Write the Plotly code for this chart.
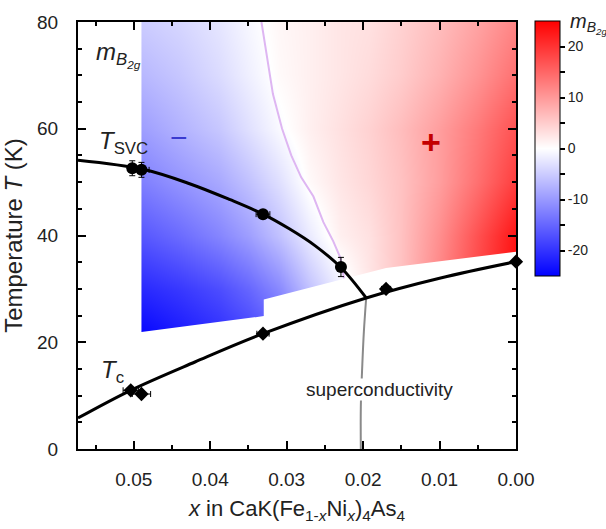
import plotly.graph_objects as go

# ---- transition temperatures -------------------------------------------
# spin-vortex-crystal transition (circles)
svc_x = [0.0502, 0.0490, 0.0331, 0.0229]
svc_t = [52.6, 52.3, 44.0, 34.1]
svc_dx = [0.0005, 0.0010, 0.0009, 0.0003]
svc_dt = [1.4, 1.4, 0.6, 1.8]

# superconducting transition (diamonds)
tc_x = [0.0504, 0.0490, 0.0331, 0.0170, 0.0]
tc_t = [11.0, 10.3, 21.6, 30.0, 35.1]
tc_dx = [0.0010, 0.0012, 0.0008, 0.0006, 0.0]
tc_dt = [0.5, 0.6, 0.5, 0.6, 0.0]

# guide-to-the-eye phase lines
svc_line_x = [0.0573, 0.0488, 0.0427, 0.0374, 0.0331, 0.0296, 0.0263, 0.0229, 0.0196]
svc_line_t = [54.1, 52.4, 49.7, 46.7, 44.0, 41.2, 38.1, 34.0, 28.3]
tc_line_x = [0.0573, 0.0504, 0.0420, 0.0331, 0.0196, 0.0100, 0.0]
tc_line_t = [5.8, 11.0, 16.3, 21.6, 28.3, 32.0, 35.1]
sc_line_x = [0.0196, 0.0199, 0.0201, 0.0203, 0.0203]
sc_line_t = [28.3, 22.0, 16.0, 8.0, 0.0]

# ---- elastoresistance coefficient m_B2g -------------------------------
mb_x = [0.049, 0.044, 0.039, 0.035, 0.031, 0.027, 0.023, 0.019, 0.015, 0.010, 0.005, 0.0]
mb_t = [20, 30, 40, 50, 60, 70, 80]
mb_values = [
    [-25.0, -23.0, -21.0, -19.0, -16.0, -12.0, -6.0, 0.0, 5.0, 12.0, 20.0, 27.0],
    [-21.0, -19.5, -17.5, -15.0, -11.5, -6.0, -1.5, 2.5, 6.0, 12.0, 18.0, 24.0],
    [-16.5, -14.5, -12.0, -9.5, -6.0, -2.0, 1.5, 3.0, 6.0, 11.0, 17.0, 23.0],
    [-12.5, -10.5, -8.5, -6.0, -3.0, 0.5, 2.5, 4.0, 6.0, 9.5, 14.0, 19.0],
    [-9.5, -7.5, -5.5, -3.0, -0.5, 1.5, 3.0, 4.5, 6.5, 9.5, 13.0, 17.0],
    [-7.0, -5.5, -3.5, -1.5, 0.5, 1.5, 2.5, 3.5, 5.0, 7.5, 10.5, 14.0],
    [-5.0, -4.0, -2.5, -0.8, 0.8, 1.5, 2.5, 3.0, 4.5, 6.5, 9.0, 12.0],
]
mb_range = [-25, 25]

# zero contour of m_B2g
zero_x = [0.0333, 0.0326, 0.0318, 0.0306, 0.0294, 0.0281, 0.0265, 0.0252, 0.0239, 0.0230, 0.0225]
zero_t = [80.0, 74.0, 66.5, 60.0, 55.0, 50.9, 47.3, 42.5, 38.9, 35.9, 32.0]

# region without elastoresistance data (left of first sample, below measured T)
nodata_x = [0.062, 0.062, 0.049, 0.049, 0.033, 0.033, 0.017, 0.0, -0.003, -0.003]
nodata_t = [-3, 83, 83, 21.9, 24.9, 28.0, 33.9, 37.0, 37.5, -3]

FONT = "Liberation Sans, Arial, Helvetica, sans-serif"
PLOT_L, PLOT_R, PLOT_T, PLOT_B = 78, 516, 18, 463
W, H = 606, 529
plot_w, plot_h = PLOT_R - PLOT_L, PLOT_B - PLOT_T

cb_left_px, cb_top_px, cb_len_px, cb_thick = 535, 17, 255, 25
cb_x = (cb_left_px - PLOT_L) / plot_w
cb_y = (PLOT_B - cb_top_px) / plot_h

fig = go.Figure()

fig.add_trace(go.Heatmap(
    x=mb_x, y=mb_t, z=mb_values, zsmooth="best",
    zmin=mb_range[0], zmax=mb_range[1],
    colorscale=[[0, "rgb(0,0,255)"], [0.5, "rgb(255,255,255)"], [1, "rgb(255,0,0)"]],
    hoverinfo="skip",
    colorbar=dict(
        x=cb_x, xanchor="left", xpad=0, y=cb_y, yanchor="top", ypad=0,
        lenmode="pixels", len=cb_len_px, thicknessmode="pixels", thickness=cb_thick,
        outlinecolor="black", outlinewidth=1,
        tickvals=[-20, -15, -10, -5, 0, 5, 10, 15, 20],
        ticktext=["-20", "", "-10", "", "0", "", "10", "", "20"],
        ticks="outside", ticklen=5, tickwidth=1.5, tickcolor="black",
        tickfont=dict(family=FONT, size=14, color="#222"),
    ),
))

fig.add_trace(go.Scatter(
    x=nodata_x, y=nodata_t, mode="lines", fill="toself",
    fillcolor="white", line=dict(width=0, color="white"), hoverinfo="skip",
))

fig.add_trace(go.Scatter(
    x=zero_x, y=zero_t, mode="lines",
    line=dict(color="rgb(222,182,242)", width=2), hoverinfo="skip",
))

fig.add_trace(go.Scatter(
    x=sc_line_x, y=sc_line_t, mode="lines", line_shape="spline",
    line=dict(color="#8a8a8a", width=2), hoverinfo="skip",
))

fig.add_trace(go.Scatter(
    x=svc_line_x, y=svc_line_t, mode="lines", line_shape="spline",
    line=dict(color="black", width=3), hoverinfo="skip",
))
fig.add_trace(go.Scatter(
    x=tc_line_x, y=tc_line_t, mode="lines", line_shape="spline",
    line=dict(color="black", width=3), hoverinfo="skip",
))

err_style = dict(color="black", thickness=1, width=3)
fig.add_trace(go.Scatter(
    x=svc_x, y=svc_t, mode="markers",
    marker=dict(symbol="circle", size=12, color="black"),
    error_x=dict(type="data", array=svc_dx, **err_style),
    error_y=dict(type="data", array=svc_dt, **err_style),
    cliponaxis=False,
))
fig.add_trace(go.Scatter(
    x=tc_x, y=tc_t, mode="markers",
    marker=dict(symbol="diamond", size=11, color="black"),
    error_x=dict(type="data", array=tc_dx, **err_style),
    error_y=dict(type="data", array=tc_dt, **err_style),
    cliponaxis=False,
))

axis_common = dict(
    showline=True, linecolor="black", linewidth=2, mirror="ticks",
    ticks="inside", ticklen=8, tickwidth=2, tickcolor="black",
    showgrid=False, zeroline=False,
    tickfont=dict(family=FONT, size=19, color="#222"),
)

fig.update_layout(
    width=W, height=H,
    margin=dict(l=PLOT_L, r=W - PLOT_R, t=PLOT_T, b=H - PLOT_B),
    paper_bgcolor="white", plot_bgcolor="white", showlegend=False,
    font=dict(family=FONT, color="#222"),
    xaxis=dict(
        range=[0.0573, 0], tick0=0, dtick=0.01, tickformat=".2f",
        minor=dict(ticks="inside", dtick=0.005, ticklen=4, tickwidth=2, tickcolor="black"),
        ticklabelstandoff=12,
        title=dict(text="<i>x</i> in CaK(Fe<sub>1-<i>x</i></sub>Ni<sub><i>x</i></sub>)<sub>4</sub>As<sub>4</sub>",
                   font=dict(family=FONT, size=22, color="#222"), standoff=12),
        **axis_common,
    ),
    yaxis=dict(
        range=[0, 80], tick0=0, dtick=20,
        minor=dict(ticks="inside", dtick=5, ticklen=4, tickwidth=2, tickcolor="black"),
        ticklabelstandoff=14,
        title=dict(text="Temperature <i>T</i> (K)",
                   font=dict(family=FONT, size=24, color="#222"), standoff=8),
        **axis_common,
    ),
)

# zero level marked on the colour bar
cb_zero_y = cb_y - (0 - mb_range[1]) / (mb_range[0] - mb_range[1]) * cb_len_px / plot_h
fig.add_shape(type="line", xref="paper", yref="paper",
              x0=cb_x, x1=cb_x + cb_thick / plot_w, y0=cb_zero_y, y1=cb_zero_y,
              line=dict(color="rgb(222,182,242)", width=2))

annotations = [
    dict(x=0.0552, y=74, text="<i>m</i><sub><i>B</i><sub><i>2g</i></sub></sub>",
         xanchor="left", yanchor="middle", font=dict(size=24)),
    dict(x=0.0548, y=57.5, text="<i>T</i><sub>SVC</sub>",
         xanchor="left", yanchor="middle", font=dict(size=24)),
    dict(x=0.0545, y=14.5, text="<i>T</i><sub>c</sub>",
         xanchor="left", yanchor="middle", font=dict(size=24)),
    dict(x=0.0441, y=58.4, text="\u2212", xanchor="center", yanchor="middle",
         font=dict(size=30, color="#3a3ad0")),
    dict(x=0.0111, y=57.5, text="<b>+</b>", xanchor="center", yanchor="middle",
         font=dict(size=34, color="#c40000")),
    dict(x=0.0178, y=11.1, text="superconductivity", xanchor="center", yanchor="middle",
         font=dict(size=19), bgcolor="white", borderpad=0),
]
for a in annotations:
    a.setdefault("showarrow", False)
    a["font"].setdefault("family", FONT)
    a["font"].setdefault("color", "#222")
    fig.add_annotation(**a)

fig.add_annotation(xref="paper", yref="paper",
                   x=(568 - PLOT_L) / plot_w, y=(PLOT_B - 20) / plot_h,
                   text="<i>m</i><sub><i>B</i><sub><i>2g</i></sub></sub>",
                   xanchor="left", yanchor="middle", showarrow=False,
                   font=dict(family=FONT, size=20, color="#222"))

fig.write_html("out.html")
